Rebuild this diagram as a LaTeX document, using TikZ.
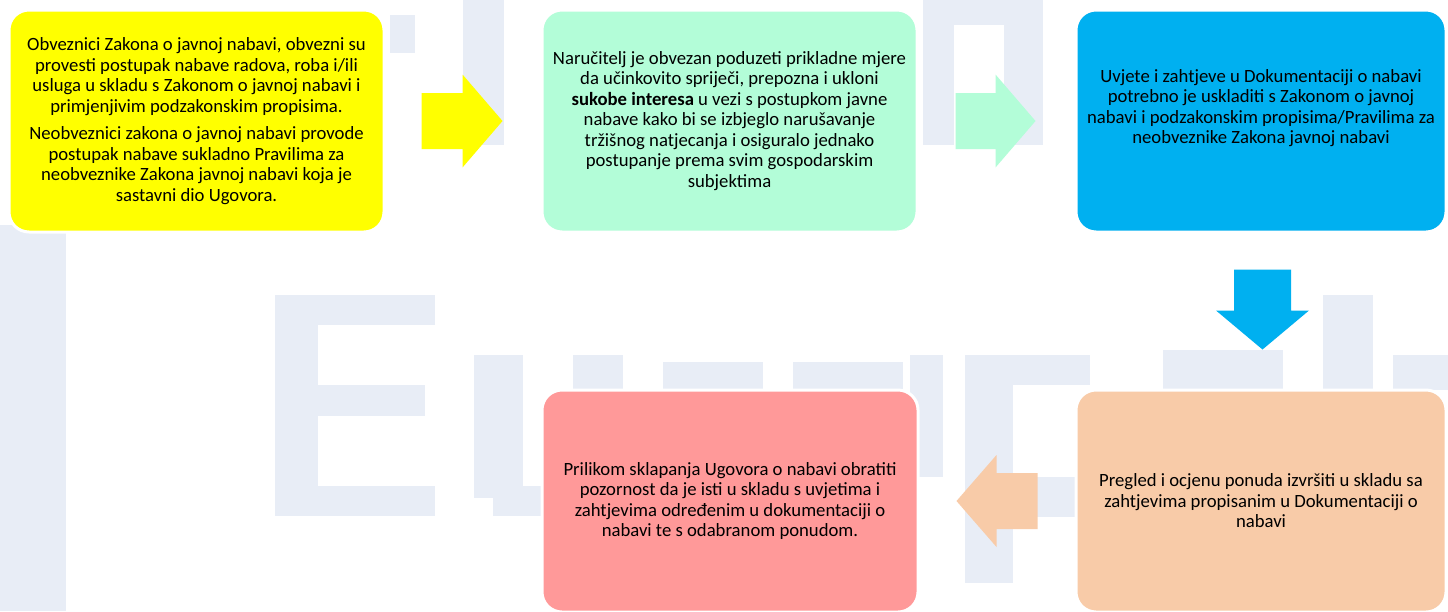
\documentclass[tikz,border=0pt]{standalone}
\usepackage{fontspec}
\setmainfont{Carlito}
\usetikzlibrary{calc}
\definecolor{wm}{RGB}{232,237,246}
\definecolor{cyel}{RGB}{255,255,0}
\definecolor{cgrn}{RGB}{179,253,216}
\definecolor{cblu}{RGB}{0,176,240}
\definecolor{cpch}{RGB}{248,203,168}
\definecolor{cpnk}{RGB}{255,153,153}
\tikzset{
  card/.style={rectangle, rounded corners=20pt, draw=white, line width=3pt, inner sep=0pt},
  cardtext/.style={align=center, inner sep=0pt, text=black, font=\fontsize{18.7}{20.5}\selectfont},
  wmark/.style={fill=wm, draw=none}
}
\begin{document}
\begin{tikzpicture}[x=1pt,y=-1pt]
\useasboundingbox (0,0) rectangle (1448,611);
\fill[white] (0,0) rectangle (1448,611);
% faint background watermark
\fill[wmark] (0,225) rectangle (66,611);
\fill[wmark] (390,15) rectangle (415,53);
\fill[wmark] (463,0) rectangle (504,145);
\fill[wmark] (923,0) rectangle (954,145);
\fill[wmark] (1004,0) rectangle (1043,145);
\fill[wmark] (923,0) rectangle (1043,25);
\fill[wmark] (275,295) rectangle (318,516);
\fill[wmark] (275,295) rectangle (435,325);
\fill[wmark] (275,385) rectangle (425,416);
\fill[wmark] (275,486) rectangle (435,516);
\fill[wmark] (474,355) rectangle (523,498);
\fill[wmark] (493,486) rectangle (545,516);
\fill[wmark] (573,355) rectangle (623,395);
\fill[wmark] (663,362) rectangle (763,395);
\fill[wmark] (793,362) rectangle (903,395);
\fill[wmark] (910,355) rectangle (943,477);
\fill[wmark] (965,355) rectangle (1013,583);
\fill[wmark] (1013,355) rectangle (1090,385);
\fill[wmark] (1013,477) rectangle (1080,517);
\fill[wmark] (1163,350) rectangle (1283,390);
\fill[wmark] (1323,295) rectangle (1373,390);
\fill[wmark] (1393,355) rectangle (1448,390);
% boxes
\node[card, fill=cyel, minimum width=375pt, minimum height=222pt] (b1) at (196.5,121) {};
\node[card, fill=cgrn, minimum width=375pt, minimum height=222pt] (b2) at (729.5,121) {};
\node[card, fill=cblu, minimum width=370pt, minimum height=222pt] (b3) at (1261,121) {};
\node[card, fill=cpch, minimum width=370pt, minimum height=222pt] (b4) at (1261,501) {};
\node[card, fill=cpnk, minimum width=376pt, minimum height=222pt] (b5) at (730,501) {};
% texts
\node[cardtext] (t1) at (b1.center) {Obveznici Zakona o javnoj nabavi, obvezni su\\
provesti postupak nabave radova, roba i/ili\\
usluga u skladu s Zakonom o javnoj nabavi i\\
primjenjivim podzakonskim propisima.\\[7pt]
Neobveznici zakona o javnoj nabavi provode\\
postupak nabave sukladno Pravilima za\\
neobveznike Zakona javnoj nabavi koja je\\
sastavni dio Ugovora.};
\node[cardtext] (t2) at (b2.center) {Naručitelj je obvezan poduzeti prikladne mjere\\
da učinkovito spriječi, prepozna i ukloni\\
\textbf{sukobe interesa} u vezi s postupkom javne\\
nabave kako bi se izbjeglo narušavanje\\
tržišnog natjecanja i osiguralo jednako\\
postupanje prema svim gospodarskim\\
subjektima};
\node[cardtext] (t3) at ($(b3.center)+(0,-13)$) {Uvjete i zahtjeve u Dokumentaciji o nabavi\\
potrebno je uskladiti s Zakonom o javnoj\\
nabavi i podzakonskim propisima/Pravilima za\\
neobveznike Zakona javnoj nabavi};
\node[cardtext] (t4) at (b4.center) {Pregled i ocjenu ponuda izvršiti u skladu sa\\
zahtjevima propisanim u Dokumentaciji o\\
nabavi};
\node[cardtext] (t5) at (b5.center) {Prilikom sklapanja Ugovora o nabavi obratiti\\
pozornost da je isti u skladu s uvjetima i\\
zahtjevima određenim u dokumentaciji o\\
nabavi te s odabranom ponudom.};
% block arrows
\coordinate (a1) at ($(b1.east)+(36,0)$);
\coordinate (a2) at ($(b2.east)+(37,0)$);
\coordinate (a3) at ($(b3.south)+(1.5,36)$);
\coordinate (a4) at ($(b4.west)+(-37,0)$);
\fill[cyel] (a1) +(0,-28) -- +(41,-28) -- +(41,-46.5) -- +(81,0) -- +(41,46.5) -- +(41,28) -- +(0,28) -- cycle;
\fill[cgrn] (a2) +(0,-28) -- +(40,-28) -- +(40,-46.5) -- +(80,0) -- +(40,46.5) -- +(40,28) -- +(0,28) -- cycle;
\fill[cblu] (a3) +(-28.5,0) -- +(28.5,0) -- +(28.5,41) -- +(46.5,41) -- +(0,80) -- +(-46.5,41) -- +(-28.5,41) -- cycle;
\fill[cpch] (a4) +(0,-28) -- +(-41,-28) -- +(-41,-46) -- +(-81,0) -- +(-41,46) -- +(-41,28) -- +(0,28) -- cycle;
\end{tikzpicture}
\end{document}
